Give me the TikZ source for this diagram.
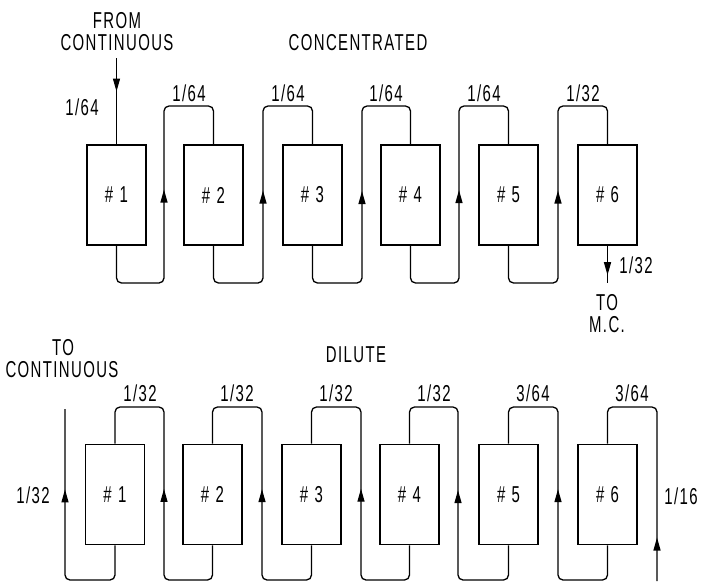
\documentclass[tikz,border=0pt]{standalone}
\usepackage{fontspec}
\setmainfont{Liberation Sans}[FakeStretch=0.65, LetterSpace=6]
\usetikzlibrary{arrows.meta,decorations.markings}

\tikzset{
  cell/.style={draw, line width=1.8pt, minimum width=59pt, minimum height=100pt,
    inner sep=0pt, font=\fontsize{23}{25}\selectfont},
  pipe/.style={line width=1.3pt, rounded corners=5pt},
  flow/.style={postaction={decorate, decoration={markings,
    mark=at position #1 with {\arrow{Triangle[length=13pt,width=7pt]}}}}},
  lbl/.style={inner sep=0pt, font=\fontsize{23}{25}\selectfont}
}

\begin{document}
\begin{tikzpicture}[x=1pt,y=-1pt]
    \useasboundingbox (0,0) rectangle (703,581);

    % Concentrated
    \node[lbl] (ctitle) at (358,43) {CONCENTRATED};
    \node[lbl] (from) at (117,21) {FROM};
    \node[lbl] (fromcont) at (117,43) {CONTINUOUS};
    \node[cell] (c1) at (116.5,195) {\#\;1};
    \node[cell] (c2) at (213.5,195) {\#\;2};
    \node[cell] (c3) at (312.5,195) {\#\;3};
    \node[cell] (c4) at (410.5,195) {\#\;4};
    \node[cell] (c5) at (508.5,195) {\#\;5};
    \node[cell] (c6) at (607.5,195) {\#\;6};
    \coordinate (feed) at (116.5,58);
    \coordinate (mc) at (607.5,283);

    % Concentrated flows
    \draw[pipe, flow=0.39] (feed) -- (c1.north);
    \draw[pipe, flow=0.51] (c1.south) |- (164,283) -- (164,106) -| (c2.north);
    \draw[pipe, flow=0.51] (c2.south) |- (263,283) -- (263,106) -| (c3.north);
    \draw[pipe, flow=0.51] (c3.south) |- (362,283) -- (362,106) -| (c4.north);
    \draw[pipe, flow=0.51] (c4.south) |- (459,283) -- (459,106) -| (c5.north);
    \draw[pipe, flow=0.51] (c5.south) |- (558,283) -- (558,106) -| (c6.north);
    \draw[pipe, flow=0.79] (c6.south) -- (mc);

    % Concentrated rates
    \node[lbl] (cq0) at (82,107) {1/64};
    \node[lbl] (cq1) at (189,93) {1/64};
    \node[lbl] (cq2) at (288,93) {1/64};
    \node[lbl] (cq3) at (386,93) {1/64};
    \node[lbl] (cq4) at (484,93) {1/64};
    \node[lbl] (cq5) at (583,93) {1/32};
    \node[lbl] (cq6) at (636,265) {1/32};
    \node[lbl] (to) at (607,303) {TO};
    \node[lbl] (tomc) at (607,325) {M.C.};

    % Dilute
    \node[lbl] (dtitle) at (356,355) {DILUTE};
    \node[lbl] (to2) at (63,348) {TO};
    \node[lbl] (tocont) at (62,370) {CONTINUOUS};
    \node[cell] (d1) at (115,494.5) {\#\;1};
    \node[cell] (d2) at (212.5,494.5) {\#\;2};
    \node[cell] (d3) at (311.5,494.5) {\#\;3};
    \node[cell] (d4) at (409.5,494.5) {\#\;4};
    \node[cell] (d5) at (508.5,494.5) {\#\;5};
    \node[cell] (d6) at (607.5,494.5) {\#\;6};
    \coordinate (cont) at (65,409);
    \coordinate (inlet) at (657,581);

    % Dilute flows
    \draw[pipe, flow=0.68] (d1.south) |- (65,580) -- (cont);
    \draw[pipe, flow=0.51] (d2.south) |- (164,580) -- (164,407) -| (d1.north);
    \draw[pipe, flow=0.51] (d3.south) |- (262,580) -- (262,407) -| (d2.north);
    \draw[pipe, flow=0.51] (d4.south) |- (361,580) -- (361,407) -| (d3.north);
    \draw[pipe, flow=0.51] (d5.south) |- (458,580) -- (458,407) -| (d4.north);
    \draw[pipe, flow=0.51] (d6.south) |- (558,580) -- (558,407) -| (d5.north);
    \draw[pipe, flow=0.17] (inlet) -- (657,407) -| (d6.north);

    % Dilute rates
    \node[lbl] (dq0) at (33,495) {1/32};
    \node[lbl] (dq1) at (140,393) {1/32};
    \node[lbl] (dq2) at (237,393) {1/32};
    \node[lbl] (dq3) at (336,393) {1/32};
    \node[lbl] (dq4) at (434,393) {1/32};
    \node[lbl] (dq5) at (533,393) {3/64};
    \node[lbl] (dq6) at (632,393) {3/64};
    \node[lbl] (dq7) at (681,496) {1/16};
\end{tikzpicture}
\end{document}
